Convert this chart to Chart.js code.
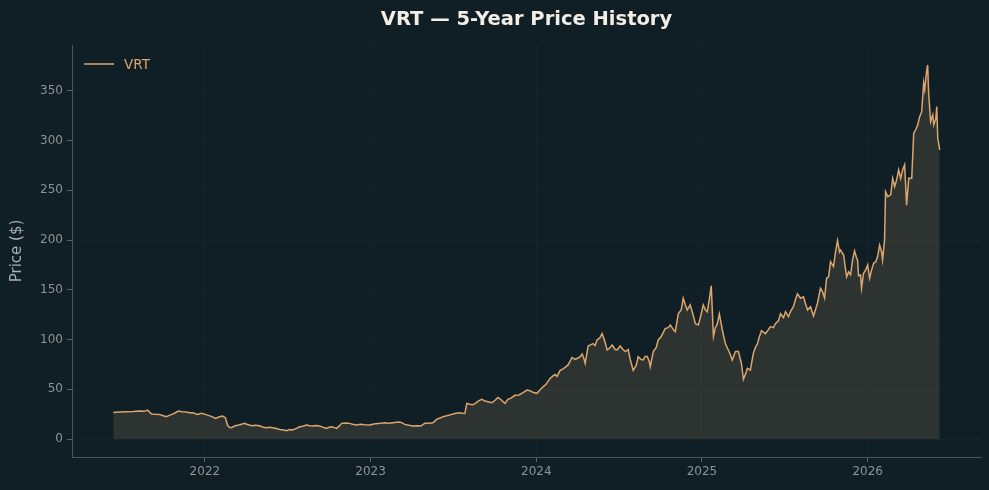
<!DOCTYPE html>
<html>
<head>
<meta charset="utf-8">
<title>VRT — 5-Year Price History</title>
<script src="https://cdn.jsdelivr.net/npm/chart.js@4.4.1/dist/chart.umd.min.js"></script>
<style>
	html, body { margin: 0; padding: 0; background: #101f25; }
	canvas { display: block; }
</style>
</head>
<body>
<canvas id="price-chart" width="989" height="490"></canvas>
<script>
// dates as decimal years, prices in USD
const dates = [
	2021.447, 2021.483, 2021.526, 2021.568, 2021.604, 2021.634, 2021.653, 2021.677, 2021.701, 2021.725,
	2021.749, 2021.767, 2021.786, 2021.804, 2021.822, 2021.840, 2021.864, 2021.888, 2021.906, 2021.925,
	2021.943, 2021.955, 2021.973, 2021.985, 2022.003, 2022.015, 2022.040, 2022.064, 2022.088, 2022.106,
	2022.124, 2022.136, 2022.148, 2022.160, 2022.179, 2022.197, 2022.221, 2022.239, 2022.257, 2022.281,
	2022.306, 2022.330, 2022.348, 2022.366, 2022.390, 2022.408, 2022.432, 2022.451, 2022.475, 2022.493,
	2022.511, 2022.529, 2022.553, 2022.572, 2022.590, 2022.614, 2022.632, 2022.650, 2022.674, 2022.692,
	2022.711, 2022.735, 2022.753, 2022.765, 2022.783, 2022.795, 2022.813, 2022.825, 2022.850, 2022.874,
	2022.892, 2022.916, 2022.940, 2022.965, 2022.995, 2023.019, 2023.043, 2023.061, 2023.085, 2023.110,
	2023.134, 2023.158, 2023.176, 2023.194, 2023.206, 2023.231, 2023.255, 2023.279, 2023.303, 2023.327,
	2023.351, 2023.376, 2023.400, 2023.424, 2023.442, 2023.460, 2023.485, 2023.509, 2023.533, 2023.557,
	2023.569, 2023.581, 2023.599, 2023.618, 2023.636, 2023.654, 2023.672, 2023.690, 2023.708, 2023.732,
	2023.751, 2023.769, 2023.787, 2023.811, 2023.829, 2023.847, 2023.871, 2023.896, 2023.920, 2023.944,
	2023.962, 2023.980, 2024.004, 2024.023, 2024.041, 2024.059, 2024.083, 2024.101, 2024.113, 2024.125,
	2024.144, 2024.162, 2024.174, 2024.192, 2024.216, 2024.234, 2024.246, 2024.264, 2024.277, 2024.289,
	2024.295, 2024.313, 2024.331, 2024.343, 2024.355, 2024.367, 2024.385, 2024.397, 2024.410, 2024.428,
	2024.446, 2024.458, 2024.476, 2024.488, 2024.506, 2024.524, 2024.537, 2024.555, 2024.567, 2024.585,
	2024.603, 2024.615, 2024.633, 2024.645, 2024.657, 2024.670, 2024.682, 2024.688, 2024.706, 2024.724,
	2024.736, 2024.754, 2024.778, 2024.796, 2024.809, 2024.827, 2024.839, 2024.857, 2024.875, 2024.887,
	2024.899, 2024.911, 2024.929, 2024.948, 2024.960, 2024.978, 2024.990, 2025.008, 2025.020, 2025.032,
	2025.044, 2025.056, 2025.069, 2025.081, 2025.093, 2025.105, 2025.123, 2025.141, 2025.159, 2025.171,
	2025.183, 2025.202, 2025.220, 2025.238, 2025.250, 2025.262, 2025.274, 2025.292, 2025.310, 2025.322,
	2025.335, 2025.347, 2025.359, 2025.383, 2025.401, 2025.413, 2025.431, 2025.443, 2025.462, 2025.474,
	2025.492, 2025.504, 2025.522, 2025.534, 2025.552, 2025.564, 2025.576, 2025.595, 2025.613, 2025.625,
	2025.637, 2025.655, 2025.673, 2025.685, 2025.697, 2025.715, 2025.728, 2025.740, 2025.752, 2025.764,
	2025.776, 2025.794, 2025.806, 2025.818, 2025.830, 2025.836, 2025.855, 2025.867, 2025.873, 2025.885,
	2025.897, 2025.909, 2025.921, 2025.933, 2025.939, 2025.945, 2025.957, 2025.963, 2025.975, 2025.988,
	2026.000, 2026.012, 2026.024, 2026.036, 2026.048, 2026.060, 2026.072, 2026.084, 2026.090, 2026.102,
	2026.108, 2026.121, 2026.139, 2026.151, 2026.163, 2026.175, 2026.187, 2026.199, 2026.211, 2026.223,
	2026.235, 2026.248, 2026.266, 2026.278, 2026.290, 2026.302, 2026.314, 2026.326, 2026.338, 2026.344,
	2026.356, 2026.362, 2026.368, 2026.380, 2026.393, 2026.399, 2026.411, 2026.417, 2026.423, 2026.435
];

const prices = [
	26.8, 27.2, 27.5, 27.8, 28.2, 27.9, 29.2, 25.3, 25.0, 24.8,
	23.5, 22.4, 23.8, 25.1, 26.5, 28.2, 27.5, 27.2, 26.4, 26.5,
	25.4, 24.8, 25.6, 25.8, 24.8, 24.1, 22.8, 20.8, 22.5, 23.1,
	21.5, 14.1, 11.8, 11.4, 13.1, 13.8, 15.0, 15.8, 14.6, 13.4,
	13.8, 13.4, 12.2, 11.4, 11.8, 11.4, 10.6, 9.7, 9.2, 8.4,
	9.5, 9.1, 10.8, 12.4, 13.0, 14.1, 13.5, 13.1, 13.6, 13.1,
	12.0, 10.8, 12.2, 12.4, 11.5, 10.8, 13.5, 15.8, 16.2, 15.8,
	14.8, 14.1, 14.8, 14.3, 14.1, 15.2, 15.6, 15.8, 16.3, 15.9,
	16.4, 16.8, 17.1, 16.0, 14.8, 13.8, 13.1, 13.4, 13.1, 15.8,
	16.0, 16.4, 20.1, 21.5, 22.8, 23.4, 24.6, 25.8, 26.5, 26.0,
	25.8, 35.9, 35.0, 34.5, 36.5, 38.6, 39.9, 38.2, 37.5, 36.5,
	39.0, 41.9, 39.5, 35.9, 39.9, 41.2, 44.0, 44.3, 46.6, 49.3,
	48.5, 47.0, 46.0, 49.5, 52.5, 55.0, 61.0, 63.5, 65.0, 63.0,
	69.0, 70.5, 72.0, 74.5, 82.0, 80.0, 81.0, 82.5, 85.5, 80.0,
	76.0, 93.5, 95.0, 96.0, 94.0, 99.6, 102.0, 106.0, 100.0, 89.5,
	92.0, 94.5, 90.0, 89.5, 93.5, 90.0, 88.0, 90.0, 80.0, 69.0,
	74.0, 82.8, 80.0, 79.5, 83.0, 83.0, 78.0, 72.7, 88.0, 92.0,
	99.6, 103.0, 111.0, 112.0, 114.6, 110.0, 108.0, 126.0, 130.0, 141.5,
	135.0, 129.7, 134.8, 124.0, 116.0, 114.6, 122.0, 134.8, 130.0, 128.0,
	140.0, 154.0, 103.0, 112.0, 116.0, 125.7, 109.6, 96.0, 89.5, 85.0,
	79.5, 88.0, 88.0, 76.0, 60.0, 65.0, 71.0, 69.4, 86.0, 92.0,
	96.0, 103.0, 109.0, 106.0, 110.0, 113.0, 112.0, 116.0, 119.0, 126.0,
	122.0, 128.0, 123.0, 128.0, 133.0, 140.0, 146.0, 141.5, 143.0, 136.0,
	129.7, 133.0, 123.7, 130.0, 136.5, 151.6, 148.0, 141.5, 161.6, 163.0,
	178.3, 173.3, 188.0, 199.4, 188.0, 190.0, 185.0, 170.0, 163.0, 168.0,
	165.0, 180.0, 189.0, 182.0, 180.0, 164.0, 165.0, 151.6, 166.6, 170.0,
	175.0, 161.6, 170.0, 176.7, 178.0, 183.4, 195.0, 188.0, 180.0, 200.0,
	248.7, 243.7, 245.4, 262.0, 253.8, 260.5, 270.5, 262.0, 270.5, 275.6,
	235.0, 262.0, 262.0, 307.5, 310.8, 315.8, 324.0, 329.0, 357.8, 351.0,
	370.0, 376.0, 347.7, 319.0, 325.9, 315.8, 322.0, 334.2, 302.4, 290.6
];

const yearTicks = [2022, 2023, 2024, 2025, 2026];
const priceTicks = [0, 50, 100, 150, 200, 250, 300, 350];

const titleText = "VRT — 5-Year Price History";
const lineColor = "#dca56d";
const fontFamily = "'DejaVu Sans', sans-serif";

// title centred over the plot area and legend inside the plot, like the original
const overlays = {
	id: "overlays",
	afterDraw(chart) {
		const { ctx, chartArea } = chart;
		ctx.save();
		ctx.fillStyle = "#f2eee6";
		ctx.font = "bold 19.5px " + fontFamily;
		ctx.textAlign = "center";
		ctx.textBaseline = "middle";
		ctx.fillText(titleText, (chartArea.left + chartArea.right) / 2, 20);

		const x = chartArea.left + 12;
		const y = chartArea.top + 19;
		ctx.strokeStyle = lineColor;
		ctx.lineWidth = 1.5;
		ctx.beginPath();
		ctx.moveTo(x, y);
		ctx.lineTo(x + 30, y);
		ctx.stroke();
		ctx.fillStyle = lineColor;
		ctx.font = "13.5px " + fontFamily;
		ctx.textAlign = "left";
		ctx.fillText("VRT", x + 40, y + 1);
		ctx.restore();
	},
};

const ctx = document.getElementById("price-chart");

new Chart(ctx, {
	type: "line",
	data: {
		datasets: [
			{
				label: "VRT",
				data: dates.map((d, i) => ({ x: d, y: prices[i] })),
				borderColor: lineColor,
				borderWidth: 1.5,
				pointRadius: 0,
				tension: 0,
				fill: "origin",
				backgroundColor: "rgba(212, 165, 116, 0.15)",
			},
		],
	},
	options: {
		responsive: false,
		animation: false,
		layout: { padding: { top: 45, right: 8, left: 0, bottom: 0 } },
		plugins: {
			legend: { display: false },
			tooltip: { enabled: false },
			title: { display: false },
		},
		scales: {
			x: {
				type: "linear",
				min: 2021.198,
				max: 2026.684,
				afterBuildTicks: (scale) => {
					scale.ticks = yearTicks.map((v) => ({ value: v }));
				},
				afterFit: (scale) => {
					scale.height = 33;
				},
				ticks: {
					color: "#8b9497",
					font: { family: fontFamily, size: 12 },
					padding: 3,
					maxRotation: 0,
					callback: (v) => String(v),
				},
				grid: {
					color: "rgba(255, 255, 255, 0.022)",
					tickColor: "#5b6467",
					tickLength: 5,
				},
				border: { color: "#4b5558", width: 1 },
			},
			y: {
				min: -18,
				max: 396,
				afterBuildTicks: (scale) => {
					scale.ticks = priceTicks.map((v) => ({ value: v }));
				},
				afterFit: (scale) => {
					scale.width = 72;
				},
				ticks: {
					color: "#8b9497",
					font: { family: fontFamily, size: 12 },
					padding: 4,
				},
				grid: {
					color: "rgba(255, 255, 255, 0.022)",
					tickColor: "#5b6467",
					tickLength: 5,
				},
				border: { color: "#4b5558", width: 1 },
				title: {
					display: true,
					text: "Price ($)",
					color: "#a7afb1",
					font: { family: fontFamily, size: 15 },
					padding: { top: 8, bottom: 0 },
				},
			},
		},
	},
	plugins: [overlays],
});
</script>
</body>
</html>
